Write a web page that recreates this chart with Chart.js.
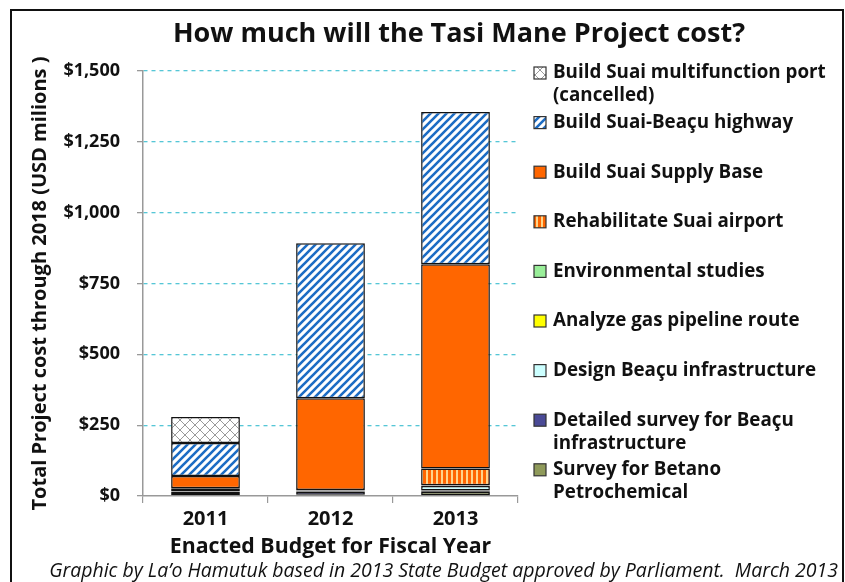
<!DOCTYPE html>
<html>
<head>
<meta charset="utf-8">
<script src="https://cdn.jsdelivr.net/npm/chart.js@4"></script>
<style>
  html, body { margin: 0; padding: 0; background: #fff; }
  #wrap { position: relative; width: 845px; height: 582px; }
</style>
</head>
<body>
<div id="wrap"><canvas id="tasiChart" width="845" height="582"></canvas></div>
<script>
// fiscal years
var years = ["2011", "2012", "2013"];

// values in USD millions, stacked from bottom to top
var betanoSurvey = [3, 4, 15];
var detailedSurvey = [8, 12, 4];
var designBeacu = [3, 3, 16];
var gasPipeline = [2, 1, 1];
var envStudies = [1, 1, 2];
var suaiAirport = [10, null, 59];
var supplyBase = [44, 324, 721];
var suaiHighway = [116, 547, 537];
var suaiPort = [92, null, null];

var yTicks = [0, 250, 500, 750, 1000, 1250, 1500];

var seriesNames = [
  ["Survey for Betano", "Petrochemical"],
  ["Detailed survey for Beaçu", "infrastructure"],
  ["Design Beaçu infrastructure"],
  ["Analyze gas pipeline route"],
  ["Environmental studies"],
  ["Rehabilitate Suai airport"],
  ["Build Suai Supply Base"],
  ["Build Suai-Beaçu highway"],
  ["Build Suai multifunction port", "(cancelled)"]
];

function makePattern(type) {
  //small canvas tiles for the hatched fills
  var c = document.createElement("canvas");
  var g = c.getContext("2d");
  if (type == "diag") {
    c.width = 8; c.height = 8;
    g.fillStyle = "#ffffff";
    g.fillRect(0, 0, 8, 8);
    g.strokeStyle = "#1c6cc4";
    g.lineWidth = 2.6;
    g.beginPath();
    g.moveTo(-2, 10); g.lineTo(10, -2);
    g.moveTo(-2, 2); g.lineTo(2, -2);
    g.moveTo(6, 10); g.lineTo(10, 6);
    g.stroke();
  } else if (type == "cross") {
    c.width = 10; c.height = 10;
    g.fillStyle = "#ffffff";
    g.fillRect(0, 0, 10, 10);
    g.strokeStyle = "#9a9a9a";
    g.lineWidth = 1;
    g.beginPath();
    g.moveTo(0, 0); g.lineTo(10, 10);
    g.moveTo(10, 0); g.lineTo(0, 10);
    g.stroke();
  } else {
    c.width = 5; c.height = 4;
    g.fillStyle = "#ff6600";
    g.fillRect(0, 0, 5, 4);
    g.fillStyle = "#ffd58a";
    g.fillRect(1, 0, 2, 4);
  }
  return g.createPattern(c, "repeat");
}

var fills = [
  "#8f9a5a",
  "#4a4a96",
  "#ccffff",
  "#ffff00",
  "#99ee99",
  makePattern("vert"),
  "#ff6600",
  makePattern("diag"),
  makePattern("cross")
];

var seriesData = [betanoSurvey, detailedSurvey, designBeacu, gasPipeline, envStudies,
  suaiAirport, supplyBase, suaiHighway, suaiPort];

var datasets = [];
for (var i = 0; i < seriesData.length; i++) {
  datasets.push({
    label: seriesNames[i].join(" "),
    data: seriesData[i],
    backgroundColor: fills[i],
    borderColor: "#111",
    borderWidth: 1.5,
    borderSkipped: false,
    barPercentage: 0.55,
    categoryPercentage: 1.0
  });
}

var FONT = "'Open Sans', 'DejaVu Sans', sans-serif";

var extrasPlugin = {
  id: "extras",
  afterDraw: function (chart) {
    var ctx = chart.ctx;
    ctx.save();
    // frame
    ctx.strokeStyle = "#111";
    ctx.lineWidth = 2;
    ctx.strokeRect(11, 10, 832, 600);
    // title
    ctx.fillStyle = "#111";
    ctx.textAlign = "center";
    ctx.textBaseline = "middle";
    ctx.font = "bold 27px " + FONT;
    ctx.fillText("How much will the Tasi Mane Project cost?", 459, 34);
    // legend, top item is the last series
    ctx.textAlign = "left";
    ctx.font = "bold 18.8px " + FONT;
    for (var k = 0; k < seriesNames.length; k++) {
      var idx = seriesNames.length - 1 - k;
      var yy = 73 + k * 49.6;
      ctx.fillStyle = fills[idx];
      ctx.fillRect(534, yy - 6, 12, 12);
      ctx.strokeStyle = "#333";
      ctx.lineWidth = 1.2;
      ctx.strokeRect(534, yy - 6, 12, 12);
      ctx.fillStyle = "#111";
      for (var l = 0; l < seriesNames[idx].length; l++) {
        ctx.fillText(seriesNames[idx][l], 553, yy + l * 23);
      }
    }
    // source line
    ctx.textAlign = "right";
    ctx.font = "italic 19.5px " + FONT;
    ctx.fillText("Graphic by La\u2019o Hamutuk based in 2013 State Budget approved by Parliament.  March 2013", 838, 571);
    ctx.restore();
  }
};

var ctx = document.getElementById("tasiChart").getContext("2d");
var myChart = new Chart(ctx, {
  type: "bar",
  data: {
    labels: years,
    datasets: datasets
  },
  options: {
    responsive: false,
    animation: false,
    layout: {
      padding: { top: 71, right: 327, bottom: 22, left: 28 }
    },
    plugins: {
      legend: { display: false },
      tooltip: { enabled: false }
    },
    scales: {
      x: {
        stacked: true,
        afterFit: function (scale) { scale.height = 64; },
        grid: {
          drawOnChartArea: false,
          offset: true,
          tickLength: 7,
          tickColor: "#999",
          lineWidth: 1.2
        },
        border: { color: "#999", width: 1.5 },
        ticks: {
          color: "#111",
          padding: 4,
          font: { family: FONT, size: 20, weight: "bold" }
        },
        title: {
          display: true,
          text: "Enacted Budget for Fiscal Year",
          color: "#111",
          padding: 0,
          font: { family: FONT, size: 21.3, weight: "bold" }
        }
      },
      y: {
        stacked: true,
        min: 0,
        max: 1500,
        afterFit: function (scale) { scale.width = 115; },
        afterBuildTicks: function (scale) {
          scale.ticks = yTicks.map(function (v) { return { value: v }; });
        },
        grid: {
          color: function (c) { return c.tick && c.tick.value == 0 ? "rgba(0,0,0,0)" : "#55c6d6"; },
          lineWidth: 1.3,
          tickBorderDash: [],
          tickColor: "#999",
          tickLength: 6
        },
        border: { color: "#999", width: 1.5, dash: [4, 4] },
        ticks: {
          color: "#111",
          padding: 17,
          font: { family: FONT, size: 18, weight: "bold" },
          callback: function (v) { return "$" + v.toLocaleString("en-US"); }
        },
        title: {
          display: true,
          text: "Total Project cost through 2018 (USD milions )",
          color: "#111",
          padding: 0,
          font: { family: FONT, size: 20, weight: "bold" }
        }
      }
    }
  },
  plugins: [extrasPlugin]
});
</script>
</body>
</html>
